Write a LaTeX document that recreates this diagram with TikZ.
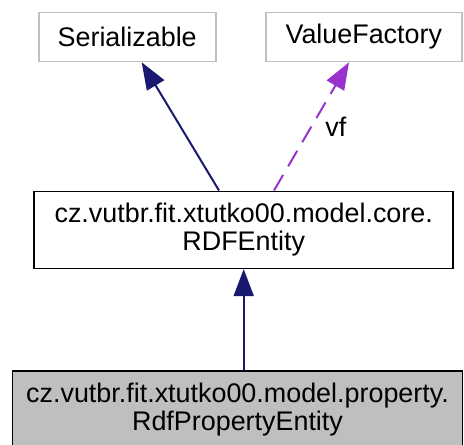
\documentclass[tikz,border=0pt]{standalone}
\usepackage{fontspec}
\setmainfont{Liberation Sans}
\usetikzlibrary{arrows.meta}
\definecolor{edgeblue}{HTML}{191970}
\definecolor{edgepurple}{HTML}{9A32CD}
\definecolor{boxgray}{HTML}{BFBFBF}
\begin{document}
\begin{tikzpicture}[x=1pt,y=-1pt,
  cls/.style={draw, line width=1.6pt, rectangle, inner sep=0pt, align=center,
    font=\fontsize{26.9}{28}\selectfont},
  extcls/.style={cls, draw=boxgray},
  inh/.style={draw=edgeblue, line width=2pt, -{Triangle[length=27pt,width=20pt]}},
  usage/.style={draw=edgepurple, line width=2pt, dash pattern=on 18pt off 10pt,
    -{Triangle[length=27pt,width=20pt]}}]
\clip (0,0) rectangle (464,445);
\node[extcls, minimum width=177pt, minimum height=49pt] (ser) at (127.2,37) {Serializable};
\node[extcls, minimum width=196pt, minimum height=49pt] (vfac) at (363.8,37) {ValueFactory};
\node[cls, minimum width=419pt, minimum height=77pt] (rdf) at (243.7,229.8) {cz.vutbr.fit.xtutko00.model.core.\\RDFEntity};
\node[cls, fill=boxgray, minimum width=450pt, minimum height=77pt] (prop) at (237.5,409.5) {cz.vutbr.fit.xtutko00.model.property.\\RdfPropertyEntity};
\draw[inh] ([xshift=-24.7pt]rdf.north) -- ([xshift=14.5pt]ser.south);
\draw[usage] ([xshift=30.3pt]rdf.north) -- ([xshift=-14.8pt]vfac.south)
  node[pos=0.5, anchor=base west, xshift=9.5pt, yshift=-10.5pt, font=\fontsize{26.9}{28}\selectfont] {vf};
\draw[inh] (prop.north -| rdf.north) -- (rdf.south);
\end{tikzpicture}
\end{document}
